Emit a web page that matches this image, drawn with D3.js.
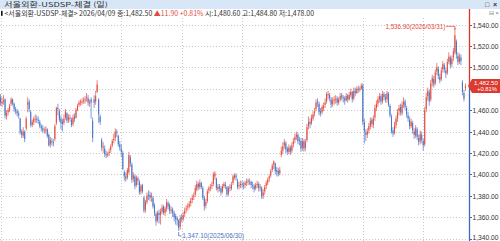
<!DOCTYPE html>
<html>
<head>
<meta charset="utf-8">
<script src="https://cdn.jsdelivr.net/npm/d3@7"></script>
<style>
  html, body { margin: 0; padding: 0; background: #fff; overflow: hidden; }
  svg { display: block; }
  text { font-family: "Liberation Sans", Arial, sans-serif; }
  .kr { font-family: "Noto Sans CJK KR", "Noto Sans", sans-serif; }
</style>
</head>
<body>
<div id="chart"></div>
<script>
// daily candles, 2025/01/02 .. 2026/04/09 (one row per month)
const opens = [
  1472,1466,1468,1470,1454,1458,1460,1466,1470,1466,1461,1459,1457,1452,1440,1436,1440,1443,
  1465,1468,1458,1446,1449,1452,1452,1451,1449,1445,1443,1441,1441,1442,1437,1428,1431,1430,1433,1448,
  1462,1459,1452,1449,1448,1453,1457,1451,1452,1451,1447,1454,1453,1460,1465,1467,1468,1468,1469,1471,
  1471,1466,1470,1450,1470,1468,1477,1470,1454,1432,1425,1424,1419,1418,1420,1423,1427,1432,1434,1440,1436,1428,
  1424,1420,1402,1398,1397,1402,1416,1409,1396,1398,1390,1396,1393,1384,1390,1378,1367,1374,1381,1381,
  1379,1378,1371,1363,1357,1364,1362,1365,1370,1364,1368,1373,1371,1366,1367,1364,1361,1359,1357,
  1351,1360,1358,1363,1367,1369,1370,1373,1376,1379,1381,1386,1391,1388,1392,1387,1378,1371,1375,1385,1387,1389,1391,
  1398,1396,1386,1389,1387,1384,1389,1390,1388,1382,1388,1387,1392,1397,1399,1394,1389,1390,1391,1390,
  1390,1392,1394,1393,1393,1390,1389,1387,1390,1391,1387,1387,1380,1384,1389,1392,1396,1399,1404,1409,1410,1404,
  1403,1401,1418,1422,1427,1429,1424,1421,1425,1422,1428,1432,1435,1437,1432,1431,1425,1431,
  1425,1432,1445,1449,1448,1452,1457,1461,1468,1466,1459,1458,1462,1465,1468,1474,1474,1470,1466,1469,
  1470,1471,1467,1470,1474,1472,1471,1469,1474,1470,1474,1477,1471,1478,1476,1480,1479,1480,1483,1449,1439,
  1437,1441,1445,1451,1446,1453,1462,1466,1470,1473,1468,1475,1472,1470,1475,1464,1454,1441,1439,1446,1452,
  1459,1463,1457,1465,1468,1462,1455,1451,1445,1448,1440,1436,1442,1434,1431,1437,1431,
  1428,1461,1473,1477,1470,1486,1489,1485,1496,1499,1491,1489,1498,1502,1497,1495,1505,1509,1503,1509,1514,
  1524,1511,1505,1509,1486,1476,1480.6
];
const highs = [
  1475,1472,1474,1471,1460,1462,1466,1472,1471,1467,1463,1461,1459,1453,1442,1444,1441,1454,
  1472,1470,1460,1451,1454,1456,1455,1454,1451,1447,1446,1444,1445,1443,1438,1435,1434,1433,1447,1463,
  1466,1461,1455,1452,1456,1461,1458,1456,1456,1453,1456,1457,1462,1466,1469,1470,1471,1472,1473,1476,
  1474,1470,1472,1453,1474,1478,1488,1471,1456,1434,1430,1427,1422,1421,1424,1428,1433,1438,1443,1442,1437,1431,
  1428,1422,1404,1402,1406,1421,1418,1411,1402,1400,1399,1398,1395,1391,1391,1380,1376,1383,1385,1384,
  1383,1380,1373,1365,1366,1367,1368,1372,1371,1370,1377,1375,1373,1370,1369,1366,1363,1361,1358,
  1362,1363,1365,1369,1371,1373,1375,1378,1381,1383,1390,1394,1393,1395,1393,1389,1380,1377,1386,1389,1391,1393,1402,
  1403,1397,1391,1391,1389,1391,1393,1393,1389,1389,1391,1393,1400,1401,1401,1396,1393,1394,1394,1393,
  1394,1396,1396,1396,1394,1393,1391,1392,1394,1393,1391,1389,1386,1390,1394,1397,1400,1405,1410,1413,1411,1407,
  1406,1407,1426,1430,1433,1431,1426,1428,1427,1430,1434,1438,1440,1439,1435,1434,1434,1433,
  1433,1447,1454,1452,1456,1459,1462,1470,1471,1468,1462,1465,1467,1471,1477,1478,1476,1472,1472,1473,
  1474,1473,1472,1476,1476,1474,1473,1476,1475,1477,1480,1478,1481,1481,1482,1483,1482,1485,1485,1452,1442,
  1443,1448,1453,1453,1455,1465,1469,1473,1476,1475,1478,1477,1475,1478,1477,1466,1456,1444,1449,1455,1461,
  1465,1466,1468,1472,1470,1464,1458,1454,1452,1450,1443,1446,1444,1437,1441,1440,1433,
  1463,1476,1481,1479,1488,1493,1492,1498,1504,1501,1494,1500,1506,1504,1500,1508,1514,1511,1511,1518,1536.9,
  1526,1514,1513,1512,1488,1479,1484.8
];
const lows = [
  1464,1463,1465,1452,1451,1455,1458,1464,1464,1458,1456,1454,1452,1437,1434,1434,1430,1441,
  1458,1458,1444,1444,1446,1448,1448,1447,1443,1440,1439,1438,1438,1434,1426,1425,1427,1426,1431,1446,
  1455,1449,1442,1440,1446,1451,1448,1448,1449,1444,1445,1449,1452,1459,1463,1464,1465,1466,1466,1468,
  1464,1463,1452,1430,1462,1465,1476,1448,1446,1422,1420,1416,1415,1416,1417,1420,1425,1429,1431,1435,1426,1422,
  1416,1404,1394,1393,1395,1400,1407,1392,1393,1386,1388,1390,1381,1381,1382,1364,1364,1372,1376,1375,
  1374,1368,1361,1352,1355,1354,1353,1363,1362,1361,1365,1367,1363,1363,1360,1356,1353,1352,1347.1,
  1348,1355,1356,1360,1364,1366,1368,1370,1373,1376,1379,1384,1385,1386,1386,1376,1366,1368,1373,1382,1384,1386,1389,
  1395,1385,1383,1384,1380,1382,1387,1386,1379,1380,1384,1385,1390,1395,1394,1386,1386,1387,1387,1386,
  1387,1389,1390,1390,1387,1386,1383,1385,1387,1384,1384,1377,1377,1381,1386,1390,1393,1397,1402,1405,1400,1398,
  1398,1399,1416,1419,1424,1420,1418,1419,1418,1420,1425,1429,1432,1428,1427,1421,1422,1421,
  1422,1430,1442,1443,1446,1450,1454,1459,1463,1455,1454,1456,1459,1462,1466,1470,1468,1462,1463,1465,
  1466,1464,1465,1468,1469,1467,1465,1468,1467,1469,1472,1467,1469,1473,1475,1476,1477,1479,1446,1429,1431,
  1434,1438,1442,1444,1443,1450,1459,1463,1467,1465,1466,1469,1467,1467,1463,1453,1438,1435,1437,1443,1449,
  1455,1455,1455,1462,1460,1453,1449,1442,1443,1438,1433,1434,1432,1427,1428,1429,1422,
  1426,1458,1469,1464,1468,1482,1481,1483,1493,1489,1485,1487,1495,1495,1490,1493,1503,1499,1500,1506,1512,
  1508,1502,1503,1502,1474,1468,1478.0
];
const closes = [
  1467,1468,1469,1455,1457,1460,1464,1470,1466,1461,1459,1457,1455,1439,1437,1440,1433,1452,
  1467,1461,1446,1449,1452,1452,1451,1450,1445,1443,1441,1441,1442,1436,1427,1432,1430,1429,1445,1462,
  1461,1451,1448,1447,1452,1459,1450,1453,1453,1446,1453,1452,1460,1464,1467,1468,1468,1469,1470,1472,
  1467,1467,1467,1434,1467,1473,1484,1456,1449,1425,1426,1419,1418,1419,1421,1426,1431,1433,1440,1439,1428,1425,
  1421,1405,1398,1396,1404,1418,1410,1395,1399,1389,1397,1394,1383,1389,1384,1366,1374,1380,1380,1378,
  1380,1370,1364,1356,1364,1362,1365,1369,1364,1368,1374,1370,1366,1367,1364,1360,1358,1357,1350,
  1359,1358,1362,1366,1368,1370,1372,1375,1378,1380,1387,1391,1388,1392,1388,1378,1370,1374,1384,1387,1388,1390,1400,
  1401,1387,1388,1387,1383,1389,1391,1389,1381,1387,1387,1390,1398,1399,1397,1388,1390,1391,1390,1389,
  1392,1393,1393,1393,1390,1389,1386,1390,1391,1387,1388,1379,1383,1388,1392,1395,1398,1403,1408,1412,1403,1402,
  1400,1404,1422,1426,1430,1423,1421,1425,1421,1427,1431,1435,1437,1431,1431,1424,1431,1424,
  1430,1444,1449,1447,1453,1456,1459,1467,1467,1458,1457,1463,1464,1467,1475,1475,1471,1465,1469,1470,
  1470,1467,1470,1473,1472,1471,1469,1473,1470,1474,1477,1470,1478,1476,1480,1479,1480,1483,1449,1440,1437,
  1440,1445,1450,1447,1452,1462,1466,1470,1473,1468,1475,1472,1470,1476,1465,1455,1440,1438,1446,1452,1458,
  1462,1458,1465,1468,1463,1456,1452,1445,1449,1441,1437,1443,1435,1430,1438,1432,1427,
  1460,1472,1478,1468,1485,1490,1484,1495,1500,1492,1488,1497,1503,1498,1494,1505,1510,1502,1508,1515,1530,
  1512,1505,1510,1506,1477,1470.6,1482.5
];
const yTicks = [1340, 1360, 1380, 1400, 1420, 1440, 1460, 1480, 1500, 1520, 1540];
const title = "서울외환-USDSP-체결 (일)";
const seriesName = "서울외환-USDSP-체결";
const lastDate = "2026/04/09";
const lowDate = "2025/06/30";
const highDate = "2026/03/31";

const W = 500, H = 241;
const upColor = "#e44c41", downColor = "#4a76c8";
const fmt = d3.format(",.2f");
const N = closes.length;

const svg = d3.select("#chart").append("svg")
    .attr("width", W)
    .attr("height", H);

const x = d3.scaleBand()
    .domain(d3.range(N))
    .range([0, 466])
    .paddingInner(0.3);
const y = d3.scaleLinear()
    .domain([1340, 1540])
    .range([238.5, 24.5]);
const cx = i => x(i) + x.bandwidth() / 2;

// squeeze a text horizontally so it takes a given width
function fitText(parent, x0, yc, width, anchorEnd) {
    const g = parent.append("g");
    const t = g.append("text").attr("x", 0).attr("y", 0).attr("dy", "0.35em");
    return {
        t: t,
        done: function () {
            const len = t.node().getComputedTextLength();
            const left = anchorEnd ? x0 - width : x0;
            g.attr("transform", `translate(${left},${yc}) scale(${width / len},1)`);
        }
    };
}

// title bar
svg.append("rect")
    .attr("x", 0).attr("y", 0)
    .attr("width", W).attr("height", 9)
    .attr("fill", "#d8e7f7");
let f = fitText(svg, 4, 4.3, 104);
f.t.attr("class", "kr").attr("font-size", 6.8).attr("fill", "#333").text(title);
f.done();
svg.append("text").attr("x", 487).attr("y", 4.5).attr("dy", "0.35em")
    .attr("font-size", 7).attr("fill", "#333").attr("text-anchor", "middle").text("□");
svg.append("text").attr("x", 495).attr("y", 4.5).attr("dy", "0.35em")
    .attr("font-size", 7).attr("font-weight", "bold").attr("fill", "#333").attr("text-anchor", "middle").text("×");
svg.append("text").attr("x", 491).attr("y", 12.8).attr("dy", "0.35em")
    .attr("font-size", 5.5).attr("fill", "#777").attr("text-anchor", "middle").text("⊟");
svg.append("text").attr("x", 497).attr("y", 12.8).attr("dy", "0.35em")
    .attr("font-size", 5.5).attr("fill", "#777").attr("text-anchor", "middle").text("×");

// info line
const last = N - 1;
const chg = closes[last] - closes[last - 1];
const pct = chg / closes[last - 1] * 100;
svg.append("rect").attr("x", 1).attr("y", 10.8).attr("width", 1.6).attr("height", 5).attr("fill", "#111");
f = fitText(svg, 4.5, 13.4, 310);
f.t.attr("class", "kr").attr("font-size", 7).attr("fill", "#333");
f.t.append("tspan").text(`<${seriesName}> ${lastDate} 종:${fmt(closes[last])} `);
f.t.append("tspan").attr("fill", upColor).text(`▲${chg.toFixed(2)} +${pct.toFixed(2)}%`);
f.t.append("tspan").text(` 시:${fmt(opens[last])} 고:${fmt(highs[last])} 저:${fmt(lows[last])}`);
f.done();

// grid
const grid = svg.append("g")
    .attr("stroke", "#c9c9c9")
    .attr("stroke-width", 1)
    .attr("stroke-dasharray", "1,2");
grid.selectAll("line.h")
    .data(yTicks)
    .join("line")
    .attr("x1", 0).attr("x2", 468)
    .attr("y1", d => Math.round(y(d)) + 0.5)
    .attr("y2", d => Math.round(y(d)) + 0.5);
grid.selectAll("line.v")
    .data(d3.range(0, N, 40))
    .join("line")
    .attr("x1", d => Math.round(cx(d)) + 0.5)
    .attr("x2", d => Math.round(cx(d)) + 0.5)
    .attr("y1", 18).attr("y2", H);

// candles
const candles = svg.append("g")
    .selectAll("g")
    .data(d3.range(N))
    .join("g")
    .attr("fill", i => closes[i] >= opens[i] ? upColor : downColor)
    .attr("stroke", i => closes[i] >= opens[i] ? upColor : downColor);
candles.append("line")
    .attr("x1", cx).attr("x2", cx)
    .attr("y1", i => y(Math.max(highs[i], opens[i], closes[i])))
    .attr("y2", i => y(Math.min(lows[i], opens[i], closes[i])))
    .attr("stroke-width", 0.7);
candles.append("rect")
    .attr("stroke", "none")
    .attr("x", i => x(i))
    .attr("width", x.bandwidth())
    .attr("y", i => y(Math.max(opens[i], closes[i])))
    .attr("height", i => Math.max(0.8, Math.abs(y(opens[i]) - y(closes[i]))));

// high / low marks
const iHigh = d3.maxIndex(highs), iLow = d3.minIndex(lows);
const hx = cx(iHigh), hy = y(highs[iHigh]);
svg.append("path")
    .attr("d", `M${hx - 9},${hy - 1.5}H${hx}V${hy + 2}`)
    .attr("fill", "none").attr("stroke", upColor).attr("stroke-width", 0.8);
f = fitText(svg, hx - 9.5, hy - 1.5, 60, true);
f.t.attr("font-size", 6.5).attr("fill", upColor).text(`${fmt(highs[iHigh])}(${highDate})`);
f.done();

const lx = cx(iLow), ly = y(lows[iLow]);
svg.append("path")
    .attr("d", `M${lx},${ly + 1}V${ly + 5}H${lx + 3}`)
    .attr("fill", "none").attr("stroke", downColor).attr("stroke-width", 0.8);
f = fitText(svg, lx + 3.5, ly + 5, 62);
f.t.attr("font-size", 6.5).attr("fill", downColor).text(`${fmt(lows[iLow])}(${lowDate})`);
f.done();

// right axis
const axX = 469.5, yLast = y(closes[last]);
svg.append("line").attr("x1", axX).attr("x2", axX).attr("y1", 9).attr("y2", yLast)
    .attr("stroke", "#d9372c").attr("stroke-width", 1.3);
svg.append("line").attr("x1", axX).attr("x2", axX).attr("y1", yLast).attr("y2", H)
    .attr("stroke", "#3b6cc2").attr("stroke-width", 1.3);
yTicks.forEach(v => {
    const ty = Math.round(y(v)) + 0.5;
    svg.append("line").attr("x1", axX).attr("x2", axX + 2.5).attr("y1", ty).attr("y2", ty)
        .attr("stroke", v >= closes[last] ? "#d9372c" : "#3b6cc2");
    if (Math.abs(ty - yLast) < 8) return; // under the price box
    const a = fitText(svg, 472.5, Math.min(ty, 237.5), 26);
    a.t.attr("font-size", 6.5).attr("fill", "#333").text(fmt(v));
    a.done();
});

// current price box
svg.append("path")
    .attr("d", `M${axX - 1.5},${yLast}L${axX + 2.5},${yLast - 7}H500V${yLast + 7}H${axX + 2.5}Z`)
    .attr("fill", "#dc3a2e");
f = fitText(svg, 474, yLast - 3.2, 24);
f.t.attr("font-size", 5.8).attr("fill", "#fff").text(fmt(closes[last]));
f.done();
f = fitText(svg, 477, yLast + 3.4, 20);
f.t.attr("font-size", 5.8).attr("fill", "#fff").text(`+${pct.toFixed(2)}%`);
f.done();
</script>
</body>
</html>
